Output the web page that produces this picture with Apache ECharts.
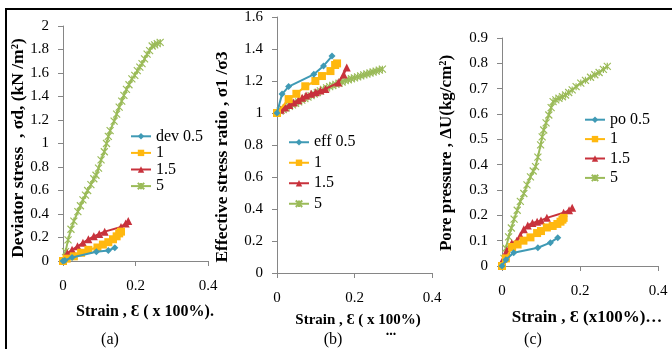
<!DOCTYPE html>
<html><head><meta charset="utf-8">
<script src="https://cdn.jsdelivr.net/npm/echarts@6/dist/echarts.min.js"></script>
<style>html,body{margin:0;padding:0;background:#fff}#c{width:672px;height:349px}</style>
</head><body><div id="c"></div>
<script>
// ---------- tick labels ----------
const xTicks = [0, 0.2, 0.4];
const yTicksA = [0, 0.2, 0.4, 0.6, 0.8, 1, 1.2, 1.4, 1.6, 1.8, 2];
const yTicksB = [0, 0.2, 0.4, 0.6, 0.8, 1, 1.2, 1.4, 1.6];
const yTicksC = [0, 0.1, 0.2, 0.3, 0.4, 0.5, 0.6, 0.7, 0.8, 0.9];
const legendA = ['dev 0.5', '1', '1.5', '5'];
const legendB = ['eff 0.5', '1', '1.5', '5'];
const legendC = ['po 0.5', '1', '1.5', '5'];

// ---------- (a) deviator stress vs strain ----------
const devA05 = [[0,0],[0.005,0.005],[0.025,0.03],[0.092,0.079],[0.125,0.09],[0.143,0.113]];
const devA1 = [[0,0],[0.01,0.02],[0.03,0.04],[0.05,0.07],[0.07,0.095],[0.095,0.115],[0.11,0.14],[0.125,0.16],[0.138,0.185],[0.148,0.21],[0.155,0.235],[0.16,0.25]];
const devA15 = [[0,0],[0.005,0.03],[0.012,0.065],[0.025,0.095],[0.04,0.125],[0.055,0.155],[0.07,0.185],[0.085,0.21],[0.1,0.23],[0.115,0.25],[0.16,0.29],[0.173,0.32],[0.18,0.34]];
const devA5 = [[0,0],[0.007,0.08],[0.014,0.18],[0.022,0.27],[0.03,0.34],[0.041,0.42],[0.048,0.47],[0.055,0.52],[0.062,0.56],[0.068,0.6],[0.077,0.65],[0.085,0.7],[0.091,0.73],[0.098,0.79],[0.105,0.86],[0.114,0.93],[0.12,1.0],[0.125,1.06],[0.13,1.11],[0.141,1.19],[0.148,1.25],[0.155,1.31],[0.162,1.36],[0.168,1.41],[0.175,1.46],[0.182,1.5],[0.19,1.55],[0.198,1.58],[0.205,1.62],[0.212,1.65],[0.218,1.68],[0.225,1.72],[0.232,1.76],[0.239,1.79],[0.246,1.83],[0.253,1.84],[0.26,1.85],[0.268,1.86]];

// ---------- (b) effective stress ratio vs strain ----------
const effB05 = [[0,1],[0.013,1.118],[0.03,1.165],[0.095,1.242],[0.12,1.294],[0.142,1.356]];
const effB1 = [[0,1],[0.03,1.087],[0.05,1.12],[0.073,1.167],[0.099,1.2],[0.116,1.231],[0.138,1.262],[0.15,1.3],[0.155,1.31]];
const effB15 = [[0,1],[0.01,1.02],[0.021,1.035],[0.032,1.05],[0.043,1.065],[0.055,1.08],[0.065,1.095],[0.075,1.11],[0.088,1.12],[0.1,1.13],[0.112,1.14],[0.125,1.15],[0.158,1.19],[0.172,1.24],[0.18,1.285]];
const effB5 = [[0,1],[0.008,1.012],[0.016,1.022],[0.024,1.032],[0.032,1.042],[0.04,1.051],[0.048,1.061],[0.056,1.07],[0.064,1.08],[0.072,1.09],[0.08,1.1],[0.088,1.109],[0.096,1.119],[0.104,1.128],[0.112,1.138],[0.12,1.148],[0.128,1.157],[0.136,1.165],[0.144,1.172],[0.152,1.179],[0.16,1.186],[0.168,1.194],[0.176,1.202],[0.184,1.208],[0.192,1.214],[0.2,1.22],[0.208,1.226],[0.216,1.232],[0.224,1.238],[0.232,1.244],[0.24,1.25],[0.248,1.256],[0.256,1.262],[0.264,1.268],[0.272,1.274]];

// ---------- (c) pore pressure vs strain ----------
const poC05 = [[0,0],[0.01,0.025],[0.03,0.052],[0.092,0.072],[0.124,0.092],[0.143,0.112]];
const poC1 = [[0,0],[0.01,0.03],[0.026,0.075],[0.04,0.085],[0.055,0.1],[0.073,0.113],[0.09,0.13],[0.1,0.138],[0.115,0.152],[0.13,0.158],[0.142,0.166],[0.15,0.175],[0.155,0.183],[0.158,0.19]];
const poC15 = [[0,0],[0.004,0.03],[0.012,0.06],[0.025,0.09],[0.038,0.1],[0.047,0.12],[0.056,0.145],[0.066,0.16],[0.078,0.17],[0.09,0.175],[0.1,0.18],[0.115,0.19],[0.158,0.21],[0.172,0.22],[0.18,0.23]];
const poC5 = [[0,0],[0.005,0.03],[0.01,0.07],[0.017,0.115],[0.024,0.15],[0.031,0.185],[0.039,0.22],[0.047,0.255],[0.056,0.286],[0.064,0.32],[0.073,0.352],[0.08,0.375],[0.086,0.392],[0.092,0.43],[0.099,0.478],[0.103,0.51],[0.107,0.537],[0.113,0.565],[0.12,0.596],[0.126,0.625],[0.131,0.649],[0.138,0.656],[0.146,0.662],[0.155,0.668],[0.163,0.675],[0.171,0.685],[0.18,0.695],[0.19,0.708],[0.202,0.722],[0.214,0.733],[0.227,0.745],[0.238,0.755],[0.249,0.764],[0.26,0.776],[0.27,0.788]];

const SERIF = '"Liberation Serif","Times New Roman",serif';
const COL = ['#3F9AB5', '#FFB80F', '#C8323C', '#9BBB59'];
const STAR = 'path://M0,0L10,10M10,0L0,10M5,0L5,10';
const SYM = ['diamond', 'rect', 'triangle', STAR];
const SYMSIZE = [7, 8, 8, 7];

function mkSeries(prefix, names, datas, idx) {
  return datas.map((d, i) => ({
    type: 'line', name: prefix + '|' + names[i], xAxisIndex: idx, yAxisIndex: idx,
    data: d, symbol: SYM[i], symbolSize: SYMSIZE[i], showSymbol: true,
    lineStyle: { color: COL[i], width: 2 },
    itemStyle: i === 3 ? { color: COL[i], borderColor: COL[i], borderWidth: 1.2 } : { color: COL[i] },
    z: 2 + (3 - i), animation: false
  }));
}

const grids = [
  { left: 63, top: 26, width: 145, height: 235 },
  { left: 277, top: 17, width: 155, height: 256 },
  { left: 502, top: 38, width: 156, height: 228 }
];
const yTicks = [yTicksA, yTicksB, yTicksC];

function xAx(i) {
  return {
    gridIndex: i, type: 'value', min: xTicks[0], max: xTicks[xTicks.length - 1], interval: xTicks[1] - xTicks[0],
    axisLine: { show: true, onZero: false, lineStyle: { color: '#868686', width: 1 } },
    axisTick: { show: true, length: 5, lineStyle: { color: '#868686' } },
    splitLine: { show: false },
    axisLabel: { margin: 18, color: '#000', fontFamily: SERIF, fontSize: 15 }
  };
}
function yAx(i) {
  const t = yTicks[i];
  return {
    gridIndex: i, type: 'value', min: t[0], max: t[t.length - 1], interval: t[1] - t[0],
    axisLine: { show: true, lineStyle: { color: '#868686', width: 1 } },
    axisTick: { show: true, length: 5, lineStyle: { color: '#868686' } },
    splitLine: { show: false },
    axisLabel: { margin: 14, color: '#000', fontFamily: SERIF, fontSize: 15 }
  };
}
function mkLegend(prefix, names, left, top, lh) {
  return {
    orient: 'vertical', left: left, top: top, padding: 0, itemWidth: 20, itemHeight: 8, itemGap: 0,
    data: names.map(n => prefix + '|' + n),
    formatter: n => n.split('|')[1],
    textStyle: { fontFamily: SERIF, fontSize: 16, color: '#000', lineHeight: lh },
    selectedMode: false
  };
}
function txt(x, y, s, size, bold, rot) {
  return {
    type: 'text', x: x, y: y, rotation: rot || 0, silent: true,
    style: { text: s, x: 0, y: 0, align: 'center', verticalAlign: 'middle', textAlign: 'center', textVerticalAlign: 'middle',
      font: (bold ? 'bold ' : '') + size + 'px ' + SERIF, fill: '#000' }
  };
}

const chart = echarts.init(document.getElementById('c'), null, { renderer: 'canvas' });
chart.setOption({
  animation: false,
  backgroundColor: '#fff',
  grid: grids,
  xAxis: [xAx(0), xAx(1), xAx(2)],
  yAxis: [yAx(0), yAx(1), yAx(2)],
  legend: [
    mkLegend('a', legendA, 130, 128, 16.6),
    mkLegend('b', legendB, 288, 132, 20.5),
    mkLegend('c', legendC, 584, 110, 19.4)
  ],
  series: [].concat(
    mkSeries('a', legendA, [devA05, devA1, devA15, devA5], 0),
    mkSeries('b', legendB, [effB05, effB1, effB15, effB5], 1),
    mkSeries('c', legendC, [poC05, poC1, poC15, poC5], 2)
  ),
  graphic: [
    { type: 'line', silent: true, shape: { x1: 6, y1: 9, x2: 672, y2: 9 }, style: { stroke: '#000', lineWidth: 2 } },
    { type: 'line', silent: true, shape: { x1: 6, y1: 8, x2: 6, y2: 349 }, style: { stroke: '#000', lineWidth: 2 } },
    txt(18, 148, 'Deviator stress  , σd, (kN /m²)', 17.5, true, Math.PI / 2),
    txt(222, 157, 'Effective stress ratio , σ1 /σ3', 17.5, true, Math.PI / 2),
    txt(447, 153, 'Pore pressure , ΔU(kg/cm²)', 17, true, Math.PI / 2),
    txt(145, 312, 'Strain , Ɛ ( x 100%).', 16, true),
    txt(358, 320, 'Strain , Ɛ ( x 100%)', 15, true),
    txt(391, 331, '...', 14, true),
    txt(587, 318, 'Strain , Ɛ (x100%)…', 17, true),
    txt(110, 340, '(a)', 16, false),
    txt(333, 340, '(b)', 16, false),
    txt(533, 340, '(c)', 16, false)
  ]
});
</script></body></html>
